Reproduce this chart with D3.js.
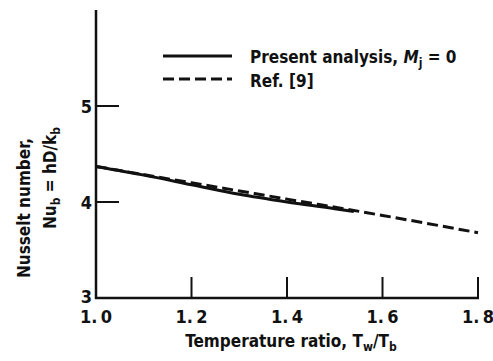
<!DOCTYPE html>
<html>
<head>
<meta charset="utf-8">
<script src="https://cdn.jsdelivr.net/npm/d3@7"></script>
<style>
  body { margin: 0; background: #fff; }
  svg text { font-family: "DejaVu Sans Condensed", "Liberation Sans Narrow", sans-serif; font-weight: bold; fill: #111; }
</style>
</head>
<body>
<div id="chart"></div>
<script>
// data
var xTicks = [1.0, 1.2, 1.4, 1.6, 1.8];
var yTicks = [3, 4, 5];
var presentT  = [1.0, 1.1, 1.2, 1.3, 1.4, 1.5, 1.54];
var presentNu = [4.37, 4.28, 4.18, 4.08, 4.0, 3.93, 3.9];
var refT  = [1.0, 1.2, 1.4, 1.6, 1.8];
var refNu = [4.37, 4.2, 4.03, 3.86, 3.68];

var W = 493, H = 361;
var svg = d3.select("#chart").append("svg").attr("width", W).attr("height", H);

var x = d3.scaleLinear().domain([1.0, 1.8]).range([96, 478]);
var y = d3.scaleLinear().domain([3, 6]).range([298, 10]);

var ink = "#111";

// axes lines
svg.append("line").attr("x1", x(1.0)).attr("x2", x(1.0)).attr("y1", y(6)).attr("y2", y(3) + 1)
  .attr("stroke", ink).attr("stroke-width", 2.5);
svg.append("line").attr("x1", x(1.0) - 1).attr("x2", x(1.8) + 1).attr("y1", y(3)).attr("y2", y(3))
  .attr("stroke", ink).attr("stroke-width", 2.5);

// x ticks (pointing up)
svg.selectAll(".xt").data(xTicks.slice(1)).enter().append("line")
  .attr("x1", function(d){return x(d);}).attr("x2", function(d){return x(d);})
  .attr("y1", y(3)).attr("y2", y(3) - 21)
  .attr("stroke", ink).attr("stroke-width", 2);
svg.selectAll(".xl").data(xTicks).enter().append("text")
  .attr("x", function(d){return x(d);}).attr("y", 323)
  .attr("text-anchor", "middle").attr("font-size", 18)
  .text(function(d){return d.toFixed(1).replace(".", ".\u2009");});

// y ticks (pointing right)
svg.selectAll(".yt").data(yTicks.slice(1)).enter().append("line")
  .attr("x1", x(1.0)).attr("x2", x(1.0) + 23)
  .attr("y1", function(d){return y(d);}).attr("y2", function(d){return y(d);})
  .attr("stroke", ink).attr("stroke-width", 2);
svg.selectAll(".yl").data(yTicks).enter().append("text")
  .attr("x", 92).attr("y", function(d){return d === 3 ? y(d) + 5 : y(d) + 7;})
  .attr("text-anchor", "end").attr("font-size", 18)
  .text(function(d){return d;});

// curves
var line = d3.line().x(function(d){return x(d[0]);}).y(function(d){return y(d[1]);}).curve(d3.curveMonotoneX);
svg.append("path").datum(d3.zip(presentT, presentNu)).attr("d", line)
  .attr("fill", "none").attr("stroke", ink).attr("stroke-width", 3);
svg.append("path").datum(d3.zip(refT, refNu)).attr("d", line)
  .attr("fill", "none").attr("stroke", ink).attr("stroke-width", 3).attr("stroke-dasharray", "11,5");

// legend
svg.append("line").attr("x1", 163).attr("x2", 232).attr("y1", 56).attr("y2", 56)
  .attr("stroke", ink).attr("stroke-width", 3);
svg.append("line").attr("x1", 163).attr("x2", 232).attr("y1", 79).attr("y2", 79)
  .attr("stroke", ink).attr("stroke-width", 3).attr("stroke-dasharray", "11,5");
var t1 = svg.append("text").attr("x", 250).attr("y", 63).attr("font-size", 17);
t1.append("tspan").text("Present analysis,  ");
t1.append("tspan").attr("font-style", "italic").text("M");
t1.append("tspan").attr("dy", 4).attr("font-size", 12).text("j");
t1.append("tspan").attr("dy", -4).text(" = 0");
svg.append("text").attr("x", 250).attr("y", 87).attr("font-size", 17).text("Ref.  [9]");

// x title
var xt = svg.append("text").attr("x", 291).attr("y", 347).attr("text-anchor", "middle").attr("font-size", 17);
xt.append("tspan").text("Temperature ratio,  T");
xt.append("tspan").attr("dy", 4).attr("font-size", 12).text("w");
xt.append("tspan").attr("dy", -4).text("/T");
xt.append("tspan").attr("dy", 4).attr("font-size", 12).text("b");

// y title
svg.append("text").attr("transform", "translate(30,208) rotate(-90)")
  .attr("text-anchor", "middle").attr("font-size", 17).text("Nusselt number,");
var yt = svg.append("text").attr("transform", "translate(56,178) rotate(-90)")
  .attr("text-anchor", "middle").attr("font-size", 17);
yt.append("tspan").text("Nu");
yt.append("tspan").attr("dy", 4).attr("font-size", 12).text("b");
yt.append("tspan").attr("dy", -4).text(" = hD/k");
yt.append("tspan").attr("dy", 4).attr("font-size", 12).text("b");
</script>
</body>
</html>
